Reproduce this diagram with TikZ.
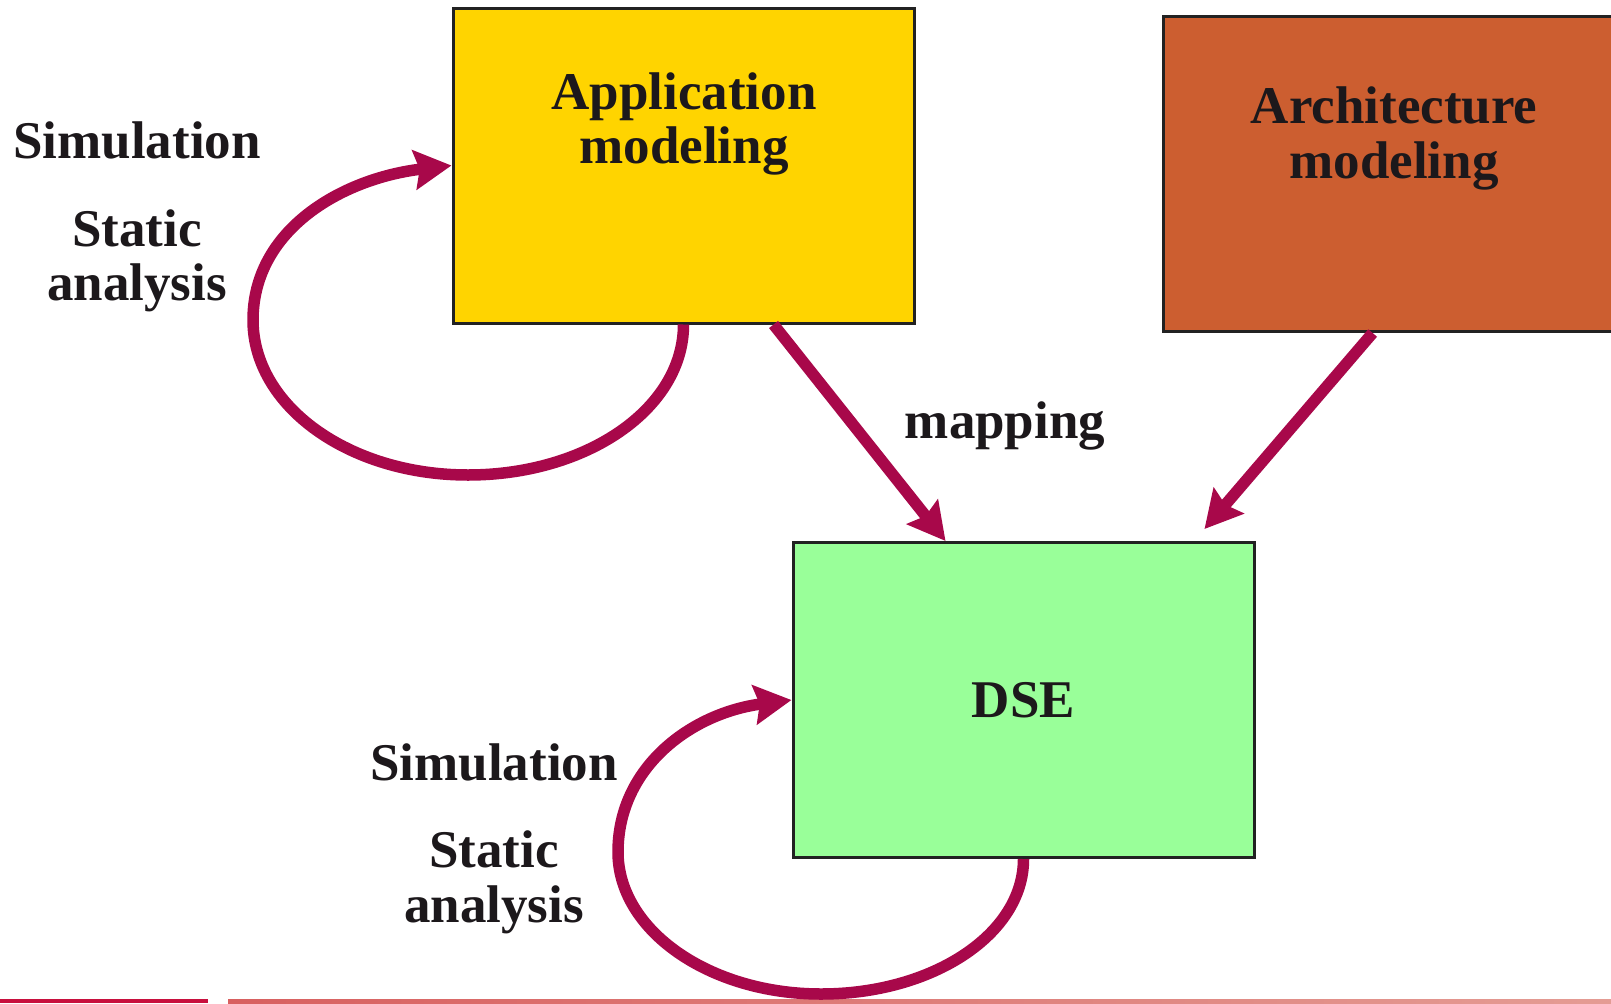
\documentclass[tikz,border=0pt]{standalone}
\usepackage{fontspec}
\setmainfont{Liberation Serif}
\usetikzlibrary{arrows.meta,calc}

\definecolor{appyellow}{RGB}{255,212,0}
\definecolor{archorange}{RGB}{204,94,48}
\definecolor{dsegreen}{RGB}{153,255,153}
\definecolor{flowred}{RGB}{168,8,74}
\definecolor{inkblack}{RGB}{28,24,27}
\definecolor{edgegray}{RGB}{34,34,34}
\definecolor{stripred}{RGB}{200,16,62}
\definecolor{stripsalmon}{RGB}{216,96,96}
\definecolor{strippink}{RGB}{228,156,148}

\tikzset{
  modelbox/.style={draw=edgegray, line width=3bp, minimum width=461bp,
    minimum height=315bp, inner sep=0pt},
  bigtext/.style={text=inkblack, inner sep=0pt, align=center,
    font=\bfseries\fontsize{53.2}{54.7}\selectfont},
  flow/.style={draw=flowred, line width=11.5bp,
    -{Stealth[length=37bp,width=39bp,inset=5bp]}},
}

\begin{document}
\begin{tikzpicture}[x=1bp,y=-1bp]
  \useasboundingbox (0,0) rectangle (1611,1003);

  % thin footer strip
  \fill[stripred] (0,999) rectangle (208,1003);
  \shade[left color=stripsalmon, right color=strippink] (228,999) rectangle (1611,1003);

  % the three modelling blocks
  \node[modelbox, fill=appyellow]  (app)  at (683.5,165.5) {};
  \node[modelbox, fill=archorange] (arch) at (1393.5,174) {};
  \node[modelbox, fill=dsegreen]   (dse)  at (1023.5,700) {};

  % block titles
  \node[bigtext] (apptitle)  at (684,124.2)  {Application\\modeling};
  \node[bigtext] (archtitle) at (1394,138.5) {Architecture\\modeling};
  \node[bigtext] (dsetitle)  at (dse.center) {DSE};

  % side labels
  \node[bigtext, anchor=base] (sim1)  at (137,158) {Simulation};
  \node[bigtext]              (stat1) at (137,260.7) {Static\\analysis};
  \node[bigtext, anchor=base] (sim2)  at (494,780) {Simulation};
  \node[bigtext]              (stat2) at (494,882.2) {Static\\analysis};
  \node[bigtext, anchor=base] (maplabel) at (1005,438) {mapping};

  % mapping and architecture feeds into DSE
  \draw[flow] ($(app.south west)!0.694!(app.south east)$)
           -- ($(dse.north west)!0.332!(dse.north east)$);
  \coordinate (archin) at ($(dse.north west)!0.89!(dse.north east)+(0,-12)$);
  \draw[flow] ($(arch.south west)!0.455!(arch.south east)$) -- (archin);

  % analysis loops
  \draw[flow] (app.south) .. controls +(0,84) and +(119,0) .. (468,475)
              .. controls +(-119,0) and +(0,86) .. (253,320)
              .. controls +(0,-90) and +(-110,13) .. (app.west);
  \draw[flow] (dse.south) .. controls +(0,75) and +(112,0) .. (821,994)
              .. controls +(-112,0) and +(0,78) .. (618,852)
              .. controls +(0,-85) and +(-100,13) .. (dse.west);
\end{tikzpicture}
\end{document}
